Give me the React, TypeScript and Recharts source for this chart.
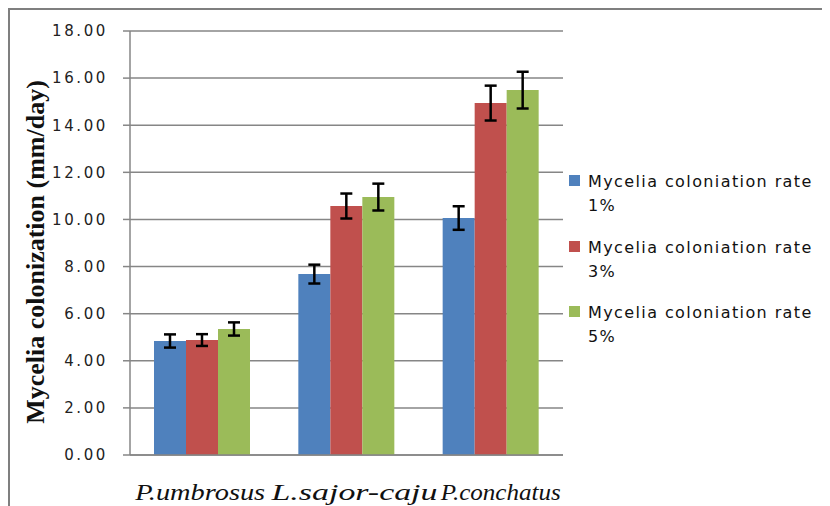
import React from "react";
import { BarChart, Bar, XAxis, YAxis, CartesianGrid, ErrorBar } from "recharts";

const categories = ["P.umbrosus", "L.sajor-caju", "P.conchatus"];
const rate1 = [4.84, 7.68, 10.06];
const err1 = [0.28, 0.4, 0.5];
const rate3 = [4.88, 10.57, 14.94];
const err3 = [0.25, 0.53, 0.74];
const rate5 = [5.35, 10.95, 15.49];
const err5 = [0.28, 0.57, 0.78];
const yTicks = [0, 2, 4, 6, 8, 10, 12, 14, 16, 18];

const seriesNames = [
  "Mycelia coloniation rate 1%",
  "Mycelia coloniation rate 3%",
  "Mycelia coloniation rate 5%",
];
const seriesColors = ["#4F81BD", "#C0504D", "#9BBB59"];

const data = categories.map((name, i) => ({
  name,
  r1: rate1[i],
  e1: err1[i],
  r3: rate3[i],
  e3: err3[i],
  r5: rate5[i],
  e5: err5[i],
}));

const GRID = "#868686";

// the source's category labels are stretched unevenly and sit a bit right of centre
const labelNudge = [-2, 8, 10];
const labelLength = [130, 166, 120];

function XTick({ x, y, payload, index }: any) {
  return (
    <text
      x={x + (labelNudge[index] || 0)}
      y={y + 37}
      textAnchor="middle"
      fontFamily="Liberation Serif"
      fontStyle="italic"
      fontSize={23}
      textLength={labelLength[index]}
      lengthAdjust="spacingAndGlyphs"
      fill="#111"
    >
      {payload.value}
    </text>
  );
}

function LegendBox() {
  return (
    <div
      style={{
        position: "absolute",
        left: 559,
        top: 160,
        fontFamily: "'DejaVu Sans', sans-serif",
        fontSize: 16,
        letterSpacing: 1.4,
        color: "#111",
      }}
    >
      {seriesNames.map((n, i) => (
        <div key={n} style={{ display: "flex", alignItems: "flex-start", height: 65.5, lineHeight: "24px" }}>
          <div style={{ width: 11, height: 11, background: seriesColors[i], marginTop: 5, marginRight: 8, flexShrink: 0 }} />
          <div style={{ width: 236 }}>{n}</div>
        </div>
      ))}
    </div>
  );
}

export default function App() {
  return (
    <div
      style={{
        width: 822,
        height: 498,
        borderTop: "2px solid #7f7f7f",
        borderLeft: "2px solid #7f7f7f",
        position: "relative",
      }}
    >
      <BarChart
        width={820}
        height={496}
        data={data}
        margin={{ top: 21, right: 267, bottom: 0, left: 0 }}
        barCategoryGap={24}
        barGap={0}
      >
        <CartesianGrid vertical={false} stroke={GRID} strokeWidth={1.5} />
        <XAxis
          dataKey="name"
          height={51}
          tickLine={false}
          axisLine={{ stroke: GRID, strokeWidth: 1.5 }}
          tick={<XTick />}
          interval={0}
        />
        <YAxis
          width={120}
          domain={[0, 18]}
          ticks={yTicks}
          interval={0}
          tickFormatter={(v) => Number(v).toFixed(2)}
          tickSize={7}
          tickMargin={15}
          tickLine={{ stroke: GRID, strokeWidth: 1.5 }}
          axisLine={{ stroke: GRID, strokeWidth: 1.5 }}
          tick={{ fontFamily: "'DejaVu Sans', sans-serif", fontSize: 15, letterSpacing: 2.6, fill: "#222" }}
          label={{
            content: () => (
              <text
                x={25}
                y={242}
                transform="rotate(-90 25 242)"
                textAnchor="middle"
                dominantBaseline="central"
                fontFamily="Liberation Serif"
                fontWeight="bold"
                fontSize={26}
                fill="#111"
              >
                Mycelia colonization (mm/day)
              </text>
            ),
          }}
        />
        <Bar dataKey="r1" name={seriesNames[0]} fill={seriesColors[0]} isAnimationActive={false}>
          <ErrorBar dataKey="e1" width={6} stroke="#000" strokeWidth={2.5} />
        </Bar>
        <Bar dataKey="r3" name={seriesNames[1]} fill={seriesColors[1]} isAnimationActive={false}>
          <ErrorBar dataKey="e3" width={6} stroke="#000" strokeWidth={2.5} />
        </Bar>
        <Bar dataKey="r5" name={seriesNames[2]} fill={seriesColors[2]} isAnimationActive={false}>
          <ErrorBar dataKey="e5" width={6} stroke="#000" strokeWidth={2.5} />
        </Bar>
      </BarChart>
      <LegendBox />
    </div>
  );
}
